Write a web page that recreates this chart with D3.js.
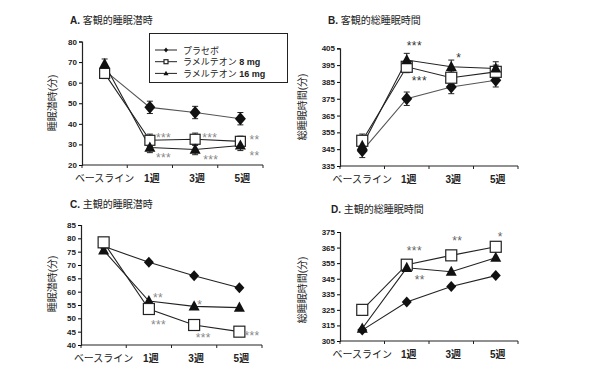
<!DOCTYPE html>
<html>
<head>
<meta charset="utf-8">
<script src="https://cdn.jsdelivr.net/npm/d3@7"></script>
<style>
  body { margin: 0; background: #fff; }
  svg { display: block; font-family: "Liberation Sans", "Noto Sans CJK JP", sans-serif; }
</style>
</head>
<body>
<svg id="chart" width="600" height="369"></svg>
<script>
const weeks = ["ベースライン", "1週", "3週", "5週"];
const seriesNames = ["プラセボ", "ラメルテオン  8 mg", "ラメルテオン 16 mg"];

// A. objective latency
const aPlacebo = [66, 48, 45.5, 42.5];
const a8mg = [64.5, 32, 32.5, 31.5];
const a16mg = [69, 28.5, 27.5, 29.5];
const aPlaceboErr = [2.5, 3, 3, 3];
const a8mgErr = [2.5, 3, 3, 2.5];
const a16mgErr = [2.5, 2.5, 2.5, 2.5];
const aTicks = [20, 30, 40, 50, 60, 70, 80];

// B. objective total sleep time
const bPlacebo = [344, 375, 382, 386];
const b8mg = [350, 394, 387.5, 391];
const b16mg = [347, 398, 394, 393];
const bPlaceboErr = [4, 4, 4, 4];
const b8mgErr = [4, 3.5, 4, 4];
const b16mgErr = [4, 4, 4, 4];
const bTicks = [335, 345, 355, 365, 375, 385, 395, 405];

// C. subjective latency
const cPlacebo = [77, 71, 66, 61.5];
const c8mg = [78.5, 53.5, 47.5, 45];
const c16mg = [75.5, 56.5, 54.5, 54];
const cTicks = [40, 45, 50, 55, 60, 65, 70, 75, 80, 85];

// D. subjective total sleep time
const dPlacebo = [312, 330, 340, 347];
const d8mg = [325, 354, 360, 365.5];
const d16mg = [313, 352, 349.5, 358.5];
const dTicks = [305, 315, 325, 335, 345, 355, 365, 375];

// significance marks: [week index, value anchor, text]
const aSig = [[1, 34.6, "***"], [1, 24.9, "***"], [2, 34.6, "***"], [2, 23.9, "***"], [3, 33.6, "**"], [3, 25.8, "**"]];
const bSig = [[1, 408, "***"], [2, 401, "*"], [1, 387.3, "***"]];
const cSig = [[1, 58.7, "**"], [1, 48.7, "***"], [2, 56.2, "*"], [2, 43.7, "***"], [3, 44.5, "***"]];
const dSig = [[1, 364.7, "***"], [1, 346.1, "**"], [2, 371.2, "**"], [3, 373.7, "*"]];

const svg = d3.select("#chart");

function marker(g, kind, x, y, s) {
  if (kind === 0) {
    const w = s.dw / 2, h = s.dh / 2;
    g.append("path")
      .attr("d", `M${x},${y - h}L${x + w},${y}L${x},${y + h}L${x - w},${y}Z`)
      .attr("fill", "#111");
  } else if (kind === 1) {
    g.append("rect")
      .attr("x", x - s.q / 2).attr("y", y - s.q / 2)
      .attr("width", s.q).attr("height", s.q)
      .attr("fill", "#fff").attr("stroke", "#222").attr("stroke-width", 1.2);
  } else {
    const w = s.t / 2;
    g.append("path")
      .attr("d", `M${x},${y - w * 1.1}L${x + w},${y + w * 0.75}L${x - w},${y + w * 0.75}Z`)
      .attr("fill", "#111");
  }
}

function panel(o) {
  const g = svg.append("g");
  const x = d3.scaleBand().domain(weeks).range(o.xr);
  const y = d3.scaleLinear().domain([o.ticks[0], o.ticks[o.ticks.length - 1]]).range(o.yr);

  g.append("text")
    .attr("x", o.title[0]).attr("y", o.title[1])
    .attr("font-size", 10).attr("fill", "#222")
    .html(`<tspan font-weight="bold">${o.letter}.</tspan>  ${o.name}`);

  // y axis
  const ya = g.append("g").attr("transform", `translate(${o.xr[0]},0)`)
    .call(d3.axisLeft(y).tickValues(o.ticks).tickSize(3).tickPadding(2).tickFormat(d3.format("d")));
  ya.select(".domain").attr("stroke", "#222").attr("stroke-width", 1.2);
  ya.selectAll("text").attr("font-size", 8).attr("font-weight", "bold").attr("fill", "#222").attr("font-family", "Liberation Sans");

  // x axis
  const xa = g.append("g").attr("transform", `translate(0,${o.yr[0]})`);
  xa.append("line").attr("x1", o.xr[0]).attr("x2", o.xr[1])
    .attr("stroke", "#222").attr("stroke-width", 1.2);
  const bounds = weeks.map(w => x(w)).concat([o.xr[1]]);
  xa.selectAll(".tk").data(bounds).join("line")
    .attr("x1", d => d).attr("x2", d => d).attr("y1", 0).attr("y2", 3)
    .attr("stroke", "#222");
  xa.selectAll(".lb").data(weeks).join("text")
    .attr("x", d => x(d) + x.bandwidth() / 2 + (d === weeks[0] ? 0 : 2))
    .attr("y", 17)
    .attr("text-anchor", "middle")
    .attr("font-size", 10)
    .attr("font-weight", d => d === weeks[0] ? "normal" : "bold")
    .attr("fill", "#222")
    .text(d => d);

  g.append("text")
    .attr("transform", `translate(${o.ylab[0]},${o.ylab[1]}) rotate(-90)`)
    .attr("text-anchor", "middle").attr("font-size", 10).attr("fill", "#222")
    .text(o.ylabel);

  const cx = i => x(weeks[i]) + x.bandwidth() / 2;
  const line = d3.line().x((d, i) => cx(i)).y(d => y(d));

  o.series.forEach((s, k) => {
    g.append("path").datum(s).attr("d", line)
      .attr("fill", "none").attr("stroke", k === 0 && o.err ? "#555" : "#222")
      .attr("stroke-width", 1.1);
  });

  if (o.err) {
    o.series.forEach((s, k) => {
      s.forEach((v, i) => {
        const e = o.err[k][i];
        const eg = g.append("g").attr("stroke", "#222").attr("stroke-width", 1);
        eg.append("line").attr("x1", cx(i)).attr("x2", cx(i)).attr("y1", y(v - e)).attr("y2", y(v + e));
        [v - e, v + e].forEach(t => eg.append("line")
          .attr("x1", cx(i) - 3).attr("x2", cx(i) + 3).attr("y1", y(t)).attr("y2", y(t)));
      });
    });
  }

  o.order.forEach(k => {
    o.series[k].forEach((v, i) => marker(g, k, cx(i), y(v), o.msize));
  });

  g.selectAll(".sig").data(o.sig).join("text")
    .attr("x", (d, j) => cx(d[0]) + o.sigdx[j])
    .attr("y", d => y(d[1]) + 7)
    .attr("font-size", 12).attr("fill", o.sigColor)
    .attr("letter-spacing", 0.4)
    .text(d => d[2]);
  return g;
}

panel({
  letter: "A", name: "客観的睡眠潜時", title: [70, 24],
  xr: [82, 263], yr: [165, 41.5], ticks: aTicks,
  ylabel: "睡眠潜時(分)", ylab: [56, 103],
  series: [aPlacebo, a8mg, a16mg], err: [aPlaceboErr, a8mgErr, a16mgErr], order: [0, 1, 2],
  msize: { dw: 11, dh: 13, q: 10, t: 11 }, sig: aSig, sigdx: [6, 6, 7, 8, 9, 9], sigColor: "#888"
});
panel({
  letter: "B", name: "客観的総睡眠時間", title: [328, 24],
  xr: [340, 518], yr: [166, 48.3], ticks: bTicks,
  ylabel: "総睡眠時間(分)", ylab: [306, 107],
  series: [bPlacebo, b8mg, b16mg], err: [bPlaceboErr, b8mgErr, b16mgErr], order: [0, 1, 2],
  msize: { dw: 11, dh: 13, q: 11, t: 11 }, sig: bSig, sigdx: [0, 5, 5], sigColor: "#333"
});
panel({
  letter: "C", name: "主観的睡眠潜時", title: [70, 208],
  xr: [81, 262], yr: [345, 225], ticks: cTicks,
  ylabel: "睡眠潜時(分)", ylab: [56, 284],
  series: [cPlacebo, c8mg, c16mg], err: null, order: [0, 2, 1],
  msize: { dw: 10, dh: 11, q: 11, t: 11 }, sig: cSig, sigdx: [4, 2, 3, 1.5, 5], sigColor: "#888"
});
panel({
  letter: "D", name: "主観的総睡眠時間", title: [331, 213],
  xr: [340, 518], yr: [341, 232], ticks: dTicks,
  ylabel: "総睡眠時間(分)", ylab: [306, 290],
  series: [dPlacebo, d8mg, d16mg], err: null, order: [0, 1, 2],
  msize: { dw: 10, dh: 11, q: 11, t: 11 }, sig: dSig, sigdx: [0, 8, 1, 2], sigColor: "#666"
});

// legend
const leg = svg.append("g");
leg.append("rect").attr("x", 149.5).attr("y", 33.5).attr("width", 138).attr("height", 49)
  .attr("fill", "#fff").attr("stroke", "#222").attr("stroke-width", 1);
seriesNames.forEach((n, k) => {
  const ly = 50 + k * 11.7;
  leg.append("line").attr("x1", 155).attr("x2", 177).attr("y1", ly).attr("y2", ly)
    .attr("stroke", "#222").attr("stroke-width", 1);
  marker(leg, k, 166, ly, { dw: 4, dh: 5, q: 4, t: 5 });
  leg.append("text").attr("x", 183).attr("y", ly + 3.5)
    .attr("font-size", 9).attr("fill", "#222")
    .html(k === 0 ? n : n.replace(/(\d+ mg)/, '<tspan font-weight="bold">$1</tspan>'));
});
</script>
</body>
</html>
